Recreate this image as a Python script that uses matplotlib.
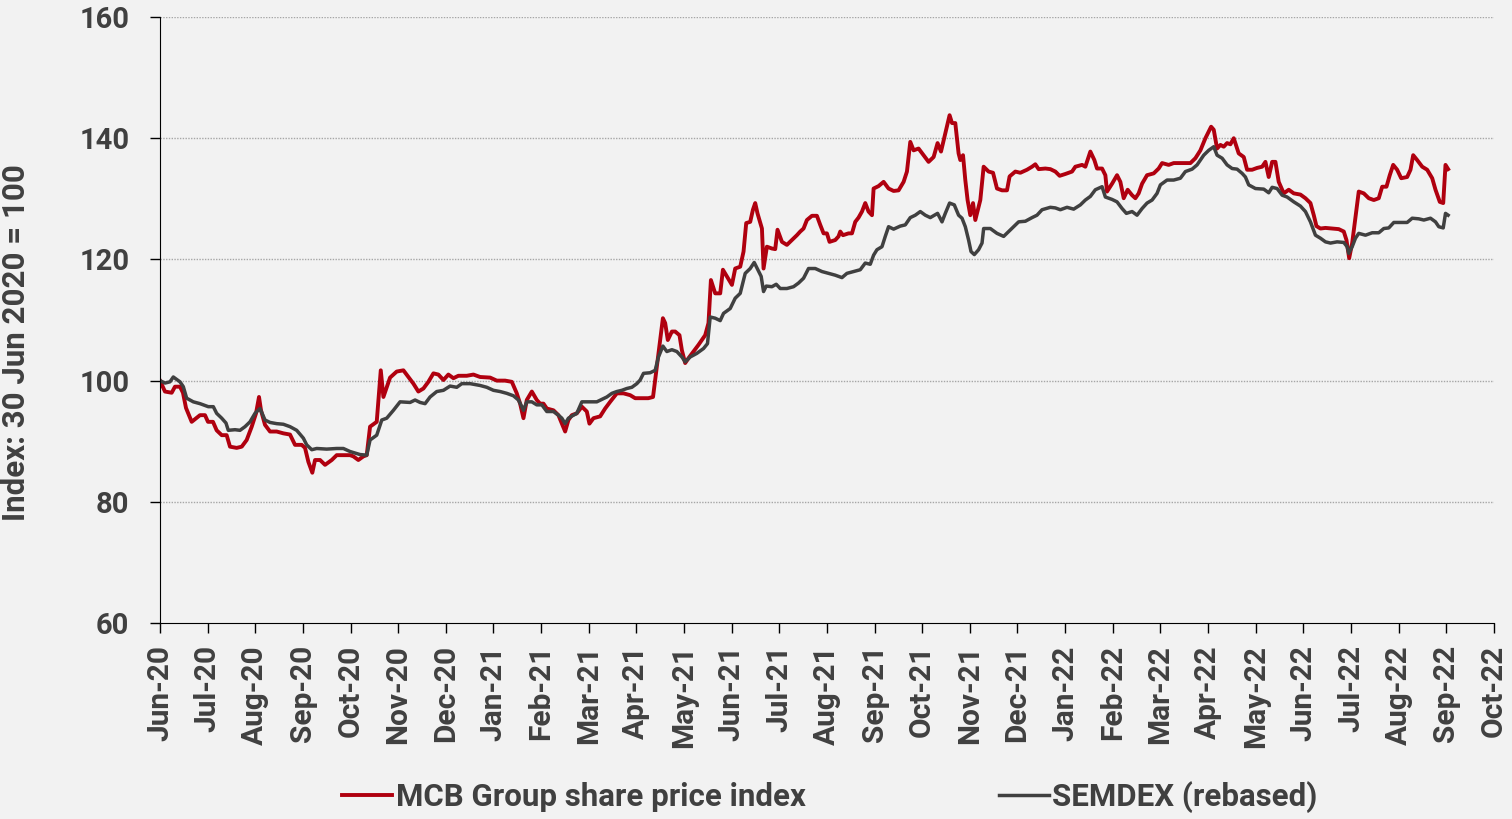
import numpy as np
import pandas as pd
import matplotlib.pyplot as plt

# month offsets from 30 Jun 2020
mcb_t = [0.00, 0.105, 0.246, 0.315, 0.42, 0.483, 0.546, 0.666, 0.84, 0.945, 1.008, 1.113, 1.19, 1.296, 1.40,
         1.47, 1.61, 1.716, 1.82, 1.926, 2.016, 2.079, 2.121, 2.205, 2.31, 2.45, 2.59, 2.73, 2.835, 2.976,
         3.045, 3.115, 3.198, 3.255, 3.36, 3.465, 3.606, 3.71, 3.85, 3.99, 4.06, 4.164, 4.27, 4.34, 4.41,
         4.55, 4.635, 4.69, 4.83, 4.97, 5.11, 5.215, 5.32, 5.424, 5.53, 5.634, 5.74, 5.844, 5.95, 6.054,
         6.16, 6.264, 6.44, 6.58, 6.72, 6.93, 7.07, 7.245, 7.386, 7.49, 7.56, 7.63, 7.70, 7.806, 7.91,
         7.98, 8.05, 8.12, 8.26, 8.364, 8.436, 8.505, 8.574, 8.646, 8.75, 8.856, 8.96, 9.015, 9.10, 9.24,
         9.345, 9.45, 9.59, 9.73, 9.87, 9.975, 10.08, 10.25, 10.35, 10.395, 10.485, 10.557, 10.605, 10.66,
         10.746, 10.815, 10.905, 10.956, 11.025, 11.094, 11.20, 11.304, 11.445, 11.514, 11.565, 11.655,
         11.76, 11.817, 11.90, 12.006, 12.075, 12.18, 12.25, 12.306, 12.39, 12.447, 12.495, 12.543, 12.636,
         12.67, 12.74, 12.846, 12.915, 12.963, 13.056, 13.16, 13.266, 13.37, 13.44, 13.51, 13.58, 13.686,
         13.79, 13.86, 13.93, 14.00, 14.055, 14.175, 14.244, 14.28, 14.337, 14.454, 14.526, 14.595, 14.664,
         14.736, 14.805, 14.874, 14.946, 14.98, 15.084, 15.19, 15.294, 15.40, 15.504, 15.61, 15.68, 15.75,
         15.82, 15.924, 16.03, 16.134, 16.24, 16.323, 16.395, 16.485, 16.575, 16.626, 16.695, 16.764, 16.80,
         16.857, 16.905, 16.953, 17.01, 17.067, 17.115, 17.22, 17.29, 17.394, 17.487, 17.57, 17.676, 17.78,
         17.835, 17.955, 18.06, 18.20, 18.306, 18.375, 18.444, 18.585, 18.69, 18.795, 18.885, 19.005,
         19.146, 19.215, 19.356, 19.425, 19.53, 19.614, 19.67, 19.776, 19.845, 19.88, 19.986, 20.09, 20.16,
         20.23, 20.313, 20.406, 20.475, 20.544, 20.616, 20.72, 20.86, 20.964, 21.036, 21.174, 21.28, 21.42,
         21.63, 21.735, 21.84, 21.945, 22.065, 22.12, 22.19, 22.26, 22.33, 22.40, 22.47, 22.54, 22.644,
         22.75, 22.82, 22.926, 23.03, 23.136, 23.205, 23.274, 23.346, 23.415, 23.484, 23.59, 23.694, 23.80,
         23.94, 24.045, 24.15, 24.22, 24.276, 24.36, 24.465, 24.606, 24.744, 24.85, 24.906, 24.963, 25.026,
         25.095, 25.164, 25.27, 25.374, 25.48, 25.584, 25.656, 25.746, 25.815, 25.887, 25.97, 26.055, 26.18,
         26.25, 26.307, 26.39, 26.496, 26.60, 26.706, 26.775, 26.865, 26.937, 26.985, 27.04]
mcb_v = [100.0, 98.2, 98.0, 99.0, 99.0, 98.0, 95.5, 93.2, 94.3, 94.3, 93.2, 93.2, 91.8, 91.0, 91.0,
         89.1, 88.9, 89.1, 90.2, 92.4, 94.6, 97.3, 95.1, 92.7, 91.6, 91.6, 91.3, 91.1, 89.4, 89.4,
         88.9, 86.6, 84.8, 86.9, 86.9, 86.1, 86.9, 87.7, 87.7, 87.7, 87.5, 86.9, 87.5, 87.7, 92.4,
         93.2, 101.7, 97.3, 100.5, 101.5, 101.7, 100.6, 99.5, 98.2, 98.7, 99.8, 101.2, 101.0, 100.1, 101.0,
         100.4, 100.8, 100.8, 101.0, 100.6, 100.5, 100.0, 100.0, 99.8, 97.9, 96.2, 93.8, 96.8, 98.2, 96.8,
         96.2, 96.2, 95.4, 95.1, 94.3, 92.9, 91.6, 93.5, 94.3, 94.6, 95.7, 94.9, 92.9, 93.8, 94.1,
         95.4, 96.5, 97.9, 97.9, 97.6, 97.1, 97.1, 97.1, 97.3, 100.1, 105.6, 110.3, 109.5, 106.7,
         108.1, 108.1, 107.5, 105.0, 102.9, 103.7, 104.8, 105.9, 107.5, 109.5, 116.6, 114.4,
         114.4, 118.3, 117.2, 115.8, 118.5, 118.8, 121.3, 126.0, 126.2, 128.2, 129.3, 127.6, 125.1,
         118.5, 122.1, 121.8, 121.7, 124.9, 122.9, 122.4, 123.2, 124.0, 124.6, 125.1, 126.5, 127.2,
         127.2, 125.7, 124.3, 124.3, 122.9, 123.2, 123.8, 124.6, 124.0, 124.3, 124.3, 126.2, 126.9,
         127.9, 129.3, 127.9, 127.3, 131.7, 132.1, 132.8, 131.7, 131.3, 131.4, 132.8, 134.5, 139.4,
         138.0, 138.3, 137.2, 136.1, 136.9, 139.2, 137.8, 140.8, 143.8, 142.5, 142.5, 137.5, 136.4,
         137.2, 133.1, 129.8, 127.3, 129.3, 126.5, 129.8, 135.3, 134.5, 134.3, 131.7, 131.4, 131.4,
         133.7, 134.5, 134.3, 134.8, 135.3, 135.7, 134.9, 135.0, 134.9, 134.5, 133.8, 134.1,
         134.5, 135.3, 135.6, 135.3, 137.8, 136.4, 135.0, 135.0, 133.9, 131.2, 132.5, 133.9, 132.8,
         130.1, 131.5, 130.6, 130.1, 130.9, 132.5, 133.9, 134.2, 135.0, 135.9, 135.6, 135.9, 135.9,
         135.9, 136.7, 138.0, 140.0, 141.9, 141.4, 138.3, 138.9, 138.6, 139.2, 139.0, 140.0, 137.5,
         136.9, 134.8, 134.8, 135.1, 135.3, 136.1, 133.6, 136.1, 136.1, 132.8, 130.9, 131.5, 130.9,
         130.7, 130.1, 129.3, 127.3, 125.5, 125.1, 125.2, 125.1, 125.0, 124.6, 123.2, 120.2, 122.7,
         127.0, 131.2, 130.9, 130.1, 129.8, 130.1, 132.0, 132.0, 133.9, 135.6, 134.8, 133.4, 133.6,
         134.8, 137.2, 136.4, 135.3, 134.8, 133.4, 131.5, 129.5, 129.3, 135.6, 134.9]

semdex_t = [0.00, 0.105, 0.21, 0.28, 0.42, 0.49, 0.56, 0.70, 0.84, 1.014, 1.12, 1.19, 1.296, 1.386, 1.434,
            1.575, 1.68, 1.785, 1.89, 1.995, 2.10, 2.205, 2.31, 2.45, 2.59, 2.73, 2.87, 3.01, 3.08, 3.186,
            3.29, 3.50, 3.71, 3.85, 3.99, 4.20, 4.34, 4.41, 4.55, 4.656, 4.76, 4.90, 5.04, 5.25, 5.355,
            5.46, 5.565, 5.67, 5.81, 5.95, 6.09, 6.23, 6.336, 6.51, 6.72, 6.86, 7.00, 7.14, 7.28, 7.42,
            7.524, 7.596, 7.63, 7.70, 7.806, 7.91, 8.016, 8.12, 8.26, 8.364, 8.436, 8.505, 8.574, 8.68,
            8.75, 8.856, 8.96, 9.066, 9.17, 9.276, 9.38, 9.486, 9.59, 9.696, 9.80, 9.906, 10.01, 10.08,
            10.15, 10.29, 10.395, 10.464, 10.557, 10.64, 10.746, 10.85, 10.956, 11.025, 11.13, 11.27,
            11.41, 11.493, 11.55, 11.655, 11.76, 11.83, 11.97, 12.075, 12.18, 12.285, 12.39, 12.474,
            12.55, 12.62, 12.67, 12.726, 12.846, 12.936, 13.02, 13.16, 13.30, 13.404, 13.51, 13.614,
            13.755, 13.896, 14.034, 14.175, 14.316, 14.42, 14.56, 14.70, 14.805, 14.91, 14.98, 15.05,
            15.156, 15.225, 15.294, 15.40, 15.54, 15.645, 15.75, 15.855, 15.96, 16.065, 16.17, 16.323,
            16.416, 16.485, 16.575, 16.674, 16.764, 16.836, 16.905, 16.974, 17.025, 17.094, 17.184,
            17.256, 17.29, 17.43, 17.57, 17.71, 17.814, 17.92, 18.024, 18.165, 18.306, 18.41, 18.516,
            18.69, 18.795, 18.90, 19.04, 19.18, 19.32, 19.425, 19.53, 19.635, 19.776, 19.845, 19.986,
            20.09, 20.196, 20.286, 20.406, 20.51, 20.616, 20.72, 20.826, 20.93, 21.00, 21.14, 21.28,
            21.42, 21.525, 21.666, 21.77, 21.91, 22.014, 22.12, 22.19, 22.296, 22.40, 22.506, 22.61,
            22.716, 22.785, 22.854, 22.995, 23.17, 23.274, 23.346, 23.45, 23.556, 23.66, 23.80, 23.94,
            24.045, 24.15, 24.255, 24.36, 24.465, 24.57, 24.71, 24.85, 24.92, 24.954, 25.026, 25.095,
            25.164, 25.305, 25.446, 25.584, 25.69, 25.794, 25.90, 26.04, 26.18, 26.286, 26.424, 26.53,
            26.67, 26.775, 26.844, 26.937, 26.985, 27.04]
semdex_v = [100.0, 99.6, 99.8, 100.6, 99.8, 99.0, 97.1, 96.5, 96.2, 95.7, 95.7, 94.6, 93.8, 93.0, 91.8,
            91.9, 91.8, 92.4, 93.2, 94.6, 95.4, 93.5, 93.1, 92.9, 92.8, 92.4, 91.8, 90.5, 89.4, 88.6,
            88.8, 88.7, 88.8, 88.8, 88.3, 87.8, 87.7, 90.2, 91.0, 93.5, 93.8, 95.1, 96.5, 96.4, 96.8,
            96.4, 96.2, 97.3, 98.2, 98.4, 99.1, 98.9, 99.5, 99.5, 99.2, 98.9, 98.4, 98.2, 97.9, 97.5,
            96.8, 95.7, 95.1, 96.5, 96.5, 96.0, 96.0, 94.9, 94.9, 94.3, 93.8, 92.9, 93.8, 94.3,
            94.6, 96.5, 96.5, 96.5, 96.5, 96.9, 97.3, 97.9, 98.2, 98.4, 98.7, 98.9, 99.5, 100.1,
            101.2, 101.3, 101.7, 103.9, 105.7, 104.8, 105.1, 104.8, 103.9, 103.1, 103.9, 104.5,
            105.3, 106.1, 110.5, 110.3, 109.9, 111.1, 111.9, 113.6, 114.4, 117.7, 118.5, 119.5,
            118.3, 117.2, 114.7, 115.6, 115.5, 115.9, 115.2, 115.2, 115.5, 116.1, 116.9, 118.5,
            118.5, 118.0, 117.7, 117.4, 117.0, 117.7, 118.0, 118.3, 119.4, 119.2, 120.7, 121.6,
            122.1, 123.8, 125.4, 125.0, 125.5, 125.7, 126.9, 127.3, 127.9, 127.3, 126.9, 127.6,
            126.2, 127.6, 129.3, 129.0, 127.3, 126.8, 125.4, 123.2, 121.3, 120.8, 121.6,
            122.7, 125.1, 125.1, 124.3, 123.8, 124.6, 125.4, 126.2, 126.3, 126.9, 127.3, 128.2,
            128.6, 128.5, 128.2, 128.6, 128.3, 129.0, 129.8, 130.4, 131.5, 132.0, 130.3, 129.9,
            129.5, 128.4, 127.6, 127.9, 127.3, 128.4, 129.3, 129.8, 130.9, 132.3, 133.1, 133.1,
            133.4, 134.5, 134.9, 135.6, 137.2, 138.0, 138.6, 137.2, 136.7, 135.6, 135.0, 134.9,
            134.2, 133.6, 132.3, 131.7, 131.6, 131.0, 131.9, 131.7, 130.6, 130.3, 129.5, 128.8,
            127.9, 126.2, 124.0, 123.5, 122.9, 122.7, 122.9, 122.8, 122.1, 121.0, 122.1, 123.5,
            124.3, 124.0, 124.4, 124.4, 125.1, 125.2, 126.1, 126.1, 126.1, 126.8, 126.7, 126.5,
            126.8, 126.2, 125.4, 125.2, 127.6, 127.3]

tick_labels = pd.date_range('2020-06-30', periods=29, freq='ME').strftime('%b-%y')

red = '#b0000f'
grey = '#404040'
txt = '#404040'
bg = '#f2f2f2'

plt.rcParams['font.family'] = ['Roboto', 'DejaVu Sans']
plt.rcParams['font.weight'] = 'bold'

fig = plt.figure(figsize=(15.12, 8.19), dpi=100, facecolor=bg)
ax = fig.add_axes([0.1058, 0.2393, 0.8822, 0.7399], facecolor=bg)

ax.plot(mcb_t, mcb_v, color=red, lw=2.8, label='MCB Group share price index', solid_joinstyle='round')
ax.plot(semdex_t, semdex_v, color=grey, lw=2.5, label='SEMDEX (rebased)', solid_joinstyle='round')

ax.set_xlim(0, 28)
ax.set_ylim(60, 160)
ax.set_yticks([60, 80, 100, 120, 140, 160])
ax.set_xticks(range(29))
ax.set_xticklabels(tick_labels, rotation=90, fontsize=21.5, fontweight='bold', color=txt)
ax.tick_params(axis='y', labelsize=21, labelcolor=txt, length=7, direction='out', pad=15, width=1)
ax.tick_params(axis='x', length=7, direction='out', pad=9, width=1)
for lab in ax.get_yticklabels():
    lab.set_fontweight('bold')

for yv in [80, 100, 120, 140, 160]:
    ax.axhline(yv, color='#a6a6a6', lw=1, ls=(0, (1, 1)), zorder=0)

ax.spines['top'].set_visible(False)
ax.spines['right'].set_visible(False)
ax.spines['left'].set_color('black')
ax.spines['bottom'].set_color('black')

ax.set_ylabel('Index: 30 Jun 2020 = 100', fontsize=22.5, fontweight='bold', color=txt)
ax.yaxis.set_label_coords(-0.097, 0.462)

leg = fig.legend(loc='center', bbox_to_anchor=(0.549, 0.027), ncol=2, frameon=False,
                 fontsize=22.5, handlelength=1.6, handletextpad=0.1, columnspacing=6.2)
for t in leg.get_texts():
    t.set_color(txt)
    t.set_fontweight('bold')

fig.savefig('out.png', dpi=100, facecolor=bg)
